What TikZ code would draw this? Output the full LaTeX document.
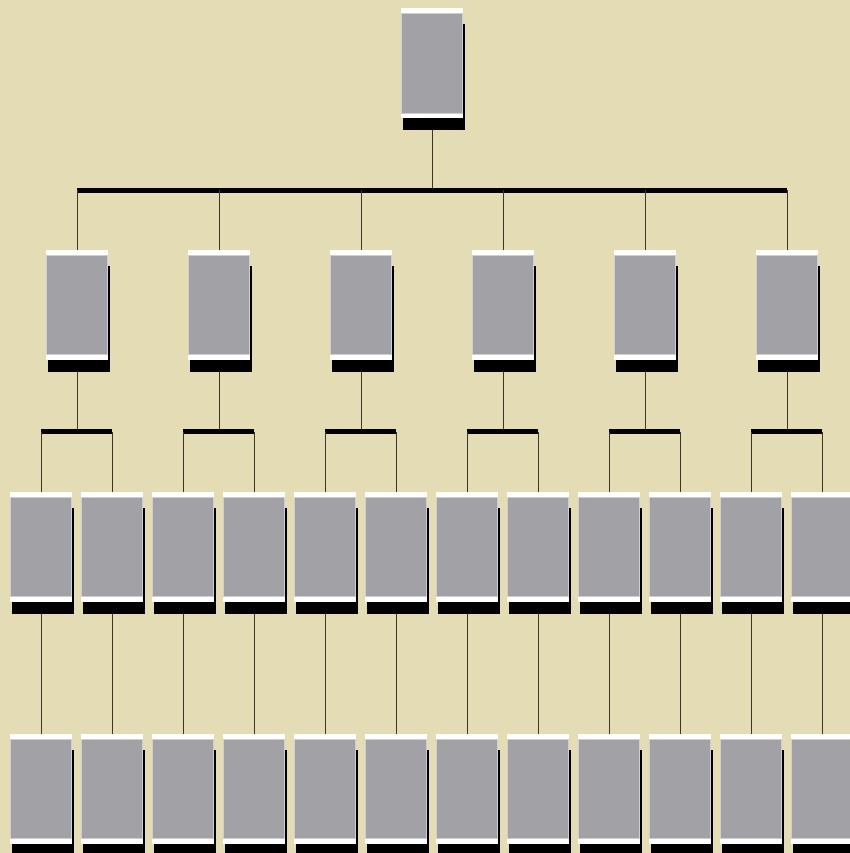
\documentclass[tikz,border=0pt]{standalone}
\usetikzlibrary{calc}
\definecolor{bgbeige}{RGB}{228,220,181}
\definecolor{boxgrey}{RGB}{162,161,166}
\definecolor{boxedge}{RGB}{205,205,212}
\definecolor{linecol}{RGB}{60,56,40}
\pgfdeclarelayer{bglayer}
\pgfdeclarelayer{linelayer}
\pgfdeclarelayer{shadowlayer}
\pgfsetlayers{bglayer,linelayer,shadowlayer,main}
\tikzset{
  orgbox/.style={rectangle, fill=white, inner sep=0pt, outer sep=0pt,
    minimum width=62pt, minimum height=110pt,
    path picture={\fill[boxgrey, draw=boxedge, line width=0.8pt]
      ([shift={(0.4,5.2)}]path picture bounding box.north west) rectangle
      ([shift={(-0.4,-5.2)}]path picture bounding box.south east);}},
  thinline/.style={draw=linecol, line width=1pt},
  busline/.style={draw=black, line width=5pt, line cap=butt}
}
\newcommand{\boxshadow}[1]{%
  \begin{pgfonlayer}{shadowlayer}
    \fill[black] ([shift={(2,16)}]#1.north west) rectangle ([shift={(2,12)}]#1.south east);
  \end{pgfonlayer}}
\begin{document}
\begin{tikzpicture}[x=1pt,y=-1pt]
\begin{pgfonlayer}{bglayer}
  \fill[bgbeige] (0,0) rectangle (850,853);
\end{pgfonlayer}
\useasboundingbox (0,0) rectangle (850,853);
% top
\node[orgbox] (top) at (432,63.5) {};
\boxshadow{top}
\coordinate (bus0) at (432,190);
% level 1
\foreach \i in {1,...,6} {
  \pgfmathsetmacro{\xx}{77+142*(\i-1)}
  \node[orgbox] (a\i) at (\xx,305) {};
  \boxshadow{a\i}
  \coordinate (bus\i) at (\xx,431.5);
}
% level 2 and 3
\foreach \j in {1,...,12} {
  \pgfmathsetmacro{\xx}{41+71*(\j-1)}
  \node[orgbox] (b\j) at (\xx,547) {};
  \boxshadow{b\j}
  \node[orgbox] (c\j) at (\xx,789) {};
  \boxshadow{c\j}
}
% connectors
\begin{pgfonlayer}{linelayer}
\draw[thinline] (top.south) -- (bus0);
\draw[busline] (a1 |- bus0) -- (a6 |- bus0);
\foreach \i in {1,...,6} {
  \draw[thinline] (a\i |- bus0) -- (a\i.north);
  \draw[thinline] (a\i.south) -- (bus\i);
}
\foreach \i/\l/\r in {1/1/2,2/3/4,3/5/6,4/7/8,5/9/10,6/11/12} {
  \draw[busline] (b\l |- bus\i) -- (b\r |- bus\i);
  \draw[thinline] (b\l |- bus\i) -- (b\l.north);
  \draw[thinline] (b\r |- bus\i) -- (b\r.north);
}
\foreach \j in {1,...,12} {
  \draw[thinline] (b\j.south) -- (c\j.north);
}
\end{pgfonlayer}
\end{tikzpicture}
\end{document}
